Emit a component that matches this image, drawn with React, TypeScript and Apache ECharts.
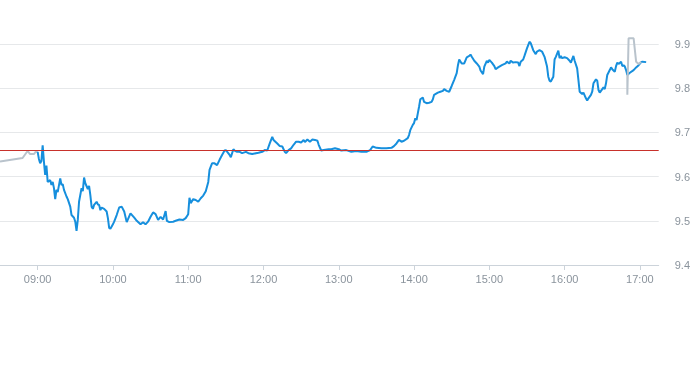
import React, { useEffect, useRef } from "react";
import * as echarts from "echarts";

const prevClose = 9.657;

const preTimes = ["08:30", "08:48", "08:52", "08:54", "08:57", "08:59", "09:00"];
const preValues = [9.634, 9.642, 9.658, 9.651, 9.651, 9.658, 9.656];

const postTimes = ["16:50", "16:50", "16:51", "16:55", "16:57", "16:59", "17:01"];
const postValues = [9.83, 9.785, 9.913, 9.913, 9.86, 9.855, 9.86];

const mainTimes = [
  "09:00","09:01","09:02","09:03","09:04","09:05","09:06","09:07","09:08","09:10",
  "09:11","09:12","09:13","09:14","09:15","09:16","09:18","09:19","09:20","09:21",
  "09:23","09:24","09:26","09:27","09:29","09:30","09:31","09:32","09:33","09:35",
  "09:36","09:37","09:38","09:40","09:41","09:42","09:43","09:44","09:45","09:47",
  "09:48","09:49","09:50","09:51","09:53","09:55","09:56","09:57","09:58","10:00",
  "10:01","10:03","10:05","10:07","10:09","10:11","10:14","10:17","10:19","10:22",
  "10:24","10:26","10:28","10:30","10:32","10:34","10:36","10:38","10:40","10:42",
  "10:43","10:45","10:48","10:50","10:53","10:56","10:58","11:00","11:01","11:02",
  "11:04","11:06","11:08","11:10","11:12","11:14","11:16","11:17","11:19","11:21",
  "11:23","11:25","11:27","11:29","11:30","11:33","11:34","11:36","11:37","11:39",
  "11:41","11:43","11:46","11:48","11:51","11:54","11:56","11:59","12:01","12:03",
  "12:05","12:07","12:08","12:11","12:13","12:15","12:17","12:18","12:20","12:22",
  "12:24","12:26","12:28","12:30","12:32","12:33","12:35","12:37","12:39","12:41",
  "12:43","12:44","12:46","12:48","12:52","12:54","12:57","13:00","13:02","13:06",
  "13:10","13:14","13:18","13:22","13:25","13:27","13:30","13:34","13:38","13:42",
  "13:44","13:46","13:48","13:50","13:52","13:55","13:56","13:57","13:59","14:00",
  "14:01","14:02","14:03","14:04","14:05","14:07","14:08","14:10","14:12","14:14",
  "14:15","14:16","14:19","14:21","14:23","14:24","14:26","14:28","14:30","14:32",
  "14:34","14:35","14:36","14:38","14:40","14:42","14:44","14:45","14:46","14:48",
  "14:50","14:52","14:53","14:55","14:56","14:58","14:59","15:00","15:02","15:04",
  "15:05","15:07","15:10","15:13","15:14","15:16","15:17","15:19","15:21","15:23",
  "15:24","15:25","15:27","15:28","15:30","15:32","15:33","15:35","15:37","15:38",
  "15:40","15:42","15:44","15:46","15:47","15:48","15:49","15:51","15:52","15:53",
  "15:55","15:56","15:57","15:58","16:00","16:02","16:04","16:05","16:07","16:08",
  "16:10","16:11","16:12","16:14","16:15","16:17","16:18","16:19","16:21","16:22",
  "16:23","16:25","16:26","16:27","16:28","16:30","16:31","16:32","16:33","16:34",
  "16:36","16:37","16:38","16:40","16:41","16:42","16:43","16:45","16:46","16:47",
  "16:48","16:49","16:50","16:52","16:55","16:57","16:59","17:01","17:02","17:05"
];
const mainValues = [
  9.656,9.640,9.630,9.635,9.671,9.634,9.604,9.625,9.588,9.592,
  9.581,9.588,9.574,9.549,9.570,9.565,9.596,9.581,9.583,9.570,
  9.555,9.549,9.532,9.513,9.507,9.498,9.477,9.502,9.543,9.574,
  9.567,9.598,9.585,9.572,9.579,9.558,9.532,9.527,9.536,9.543,
  9.537,9.536,9.524,9.530,9.527,9.521,9.506,9.484,9.482,9.492,
  9.498,9.513,9.530,9.532,9.521,9.497,9.517,9.507,9.500,9.492,
  9.497,9.492,9.498,9.509,9.519,9.515,9.502,9.509,9.503,9.522,
  9.500,9.497,9.498,9.500,9.503,9.502,9.506,9.515,9.552,9.540,
  9.549,9.547,9.543,9.551,9.557,9.567,9.588,9.615,9.630,9.630,
  9.626,9.638,9.649,9.659,9.660,9.649,9.644,9.662,9.659,9.656,
  9.656,9.653,9.656,9.653,9.651,9.653,9.654,9.656,9.660,9.659,
  9.675,9.690,9.683,9.675,9.669,9.668,9.656,9.653,9.660,9.664,
  9.672,9.679,9.679,9.677,9.683,9.678,9.684,9.679,9.684,9.683,
  9.681,9.672,9.659,9.660,9.662,9.662,9.664,9.662,9.659,9.660,
  9.656,9.658,9.656,9.656,9.660,9.668,9.665,9.664,9.664,9.665,
  9.669,9.675,9.683,9.679,9.681,9.687,9.694,9.705,9.717,9.721,
  9.732,9.728,9.743,9.758,9.775,9.779,9.769,9.766,9.767,9.769,
  9.775,9.785,9.790,9.792,9.794,9.798,9.794,9.792,9.805,9.819,
  9.834,9.852,9.865,9.856,9.856,9.870,9.873,9.876,9.871,9.862,
  9.856,9.849,9.840,9.832,9.849,9.862,9.858,9.864,9.858,9.850,
  9.843,9.847,9.852,9.856,9.860,9.856,9.862,9.858,9.859,9.858,
  9.850,9.860,9.865,9.873,9.890,9.905,9.902,9.886,9.877,9.883,
  9.886,9.883,9.871,9.849,9.826,9.817,9.815,9.826,9.865,9.871,
  9.885,9.868,9.873,9.868,9.870,9.868,9.862,9.858,9.873,9.862,
  9.845,9.819,9.792,9.787,9.790,9.777,9.772,9.777,9.785,9.792,
  9.811,9.820,9.817,9.796,9.790,9.798,9.802,9.798,9.811,9.830,
  9.841,9.847,9.843,9.837,9.850,9.858,9.855,9.860,9.850,9.852,
  9.849,9.841,9.830,9.835,9.841,9.847,9.852,9.859,9.860,9.859
];

const hourTicks = ["09:00", "10:00", "11:00", "12:00", "13:00", "14:00", "15:00", "16:00", "17:00"];
const axisStart = "08:30";
const axisEnd = "17:15";

const toMin = (s: string) => {
  const [h, m] = s.split(":").map(Number);
  return h * 60 + m;
};
const toLabel = (v: number) => {
  const h = Math.floor(v / 60);
  const m = Math.round(v - h * 60);
  return String(h).padStart(2, "0") + ":" + String(m).padStart(2, "0");
};
const pairs = (t: string[], v: number[]) => t.map((s, i) => [toMin(s), v[i]]);

export default function App() {
  const ref = useRef<HTMLDivElement>(null);
  useEffect(() => {
    if (!ref.current) return;
    const chart = echarts.init(ref.current, null, { renderer: "svg" });
    const tickVals = hourTicks.map(toMin);
    const labelStyle = {
      color: "#8a939c",
      fontSize: 11,
      fontFamily: "Liberation Sans, Arial, sans-serif",
    };
    chart.setOption({
      animation: false,
      grid: { left: -1, right: 30, top: 44, bottom: 100, containLabel: false },
      xAxis: {
        type: "value",
        min: toMin(axisStart),
        max: toMin(axisEnd),
        axisLine: { show: true, lineStyle: { color: "#ccd3da", width: 1 } },
        axisTick: { show: true, customValues: tickVals, length: 5, lineStyle: { color: "#ccd3da" } },
        axisLabel: { ...labelStyle, customValues: tickVals, formatter: (v: number) => toLabel(v), margin: 8 },
        splitLine: { show: false },
      },
      yAxis: {
        type: "value",
        position: "right",
        min: 9.4,
        max: 9.9,
        interval: 0.1,
        axisLine: { show: false },
        axisTick: { show: false },
        axisLabel: { ...labelStyle, margin: 16, formatter: (v: number) => v.toFixed(1) },
        splitLine: { show: true, lineStyle: { color: "#e6e8ea", width: 1 } },
      },
      series: [
        {
          type: "line",
          data: pairs(preTimes, preValues),
          showSymbol: false,
          symbol: "none",
          lineStyle: { color: "#b9c3cc", width: 2 },
          clip: false,
          z: 2,
        },
        {
          type: "line",
          data: pairs(mainTimes, mainValues),
          showSymbol: false,
          symbol: "none",
          lineStyle: { color: "#168fdd", width: 2 },
          clip: false,
          z: 3,
          markLine: {
            silent: true,
            symbol: "none",
            label: { show: false },
            lineStyle: { color: "#c8312b", width: 1, type: "solid" },
            data: [{ yAxis: prevClose }],
          },
        },
        {
          type: "line",
          data: pairs(postTimes, postValues),
          showSymbol: false,
          symbol: "none",
          lineStyle: { color: "#b9c3cc", width: 2 },
          clip: false,
          z: 4,
        },
      ],
    });
    return () => chart.dispose();
  }, []);
  return <div ref={ref} style={{ position: "fixed", left: 0, top: 0, width: 693, height: 365 }} />;
}
